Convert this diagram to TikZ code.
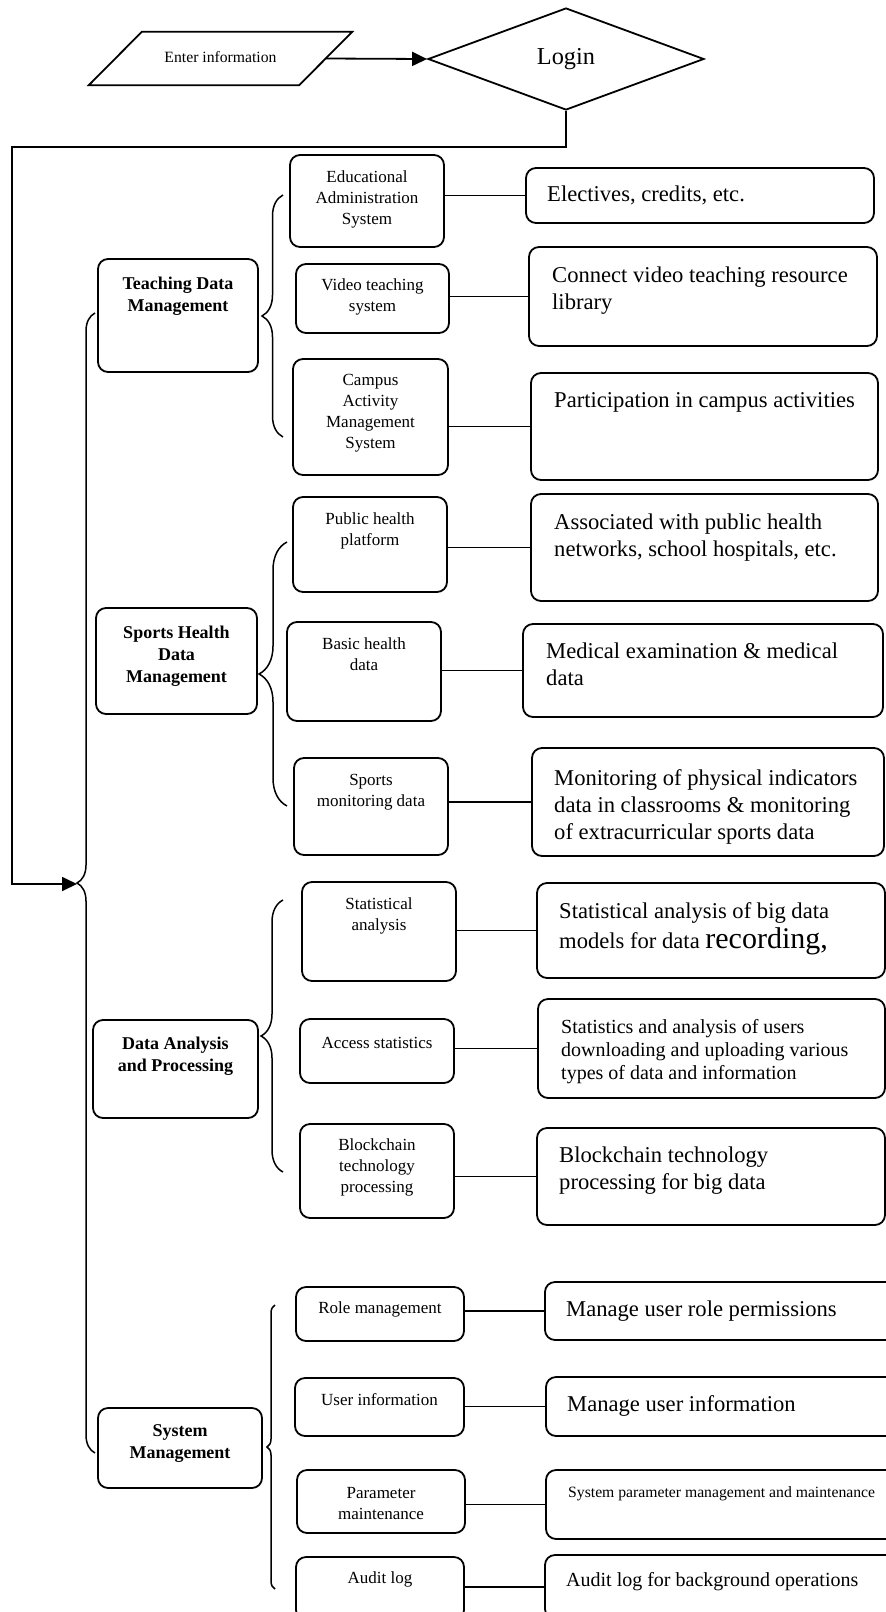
\documentclass[tikz,border=0pt]{standalone}
\usepackage{fontspec}
\setmainfont{Liberation Serif}
\usetikzlibrary{arrows.meta,shapes.geometric,decorations.pathreplacing}

\begin{document}
\begin{tikzpicture}[x=1pt,y=-1pt]
\tikzset{
    box/.style={
       draw, rounded corners=10pt, line width=1.8pt, inner sep=0pt
    },
    subtext/.style={
       font=\fontsize{17}{21}\selectfont, align=center
    },
    headtext/.style={
       font=\fontsize{18}{22}\selectfont\bfseries, align=center
    },
    desctext/.style={
       font=\fontsize{22.6}{27}\selectfont, align=left, anchor=north west, inner sep=0pt
    },
    link/.style={line width=1.8pt},
    brace/.style={
      decoration={brace, amplitude=#1}, decorate, line width=1.5pt
    }
}
\useasboundingbox (0,0) rectangle (886,1612);
\clip (0,0) rectangle (886,1612);
%
\node[minimum width=210pt, minimum height=53pt, inner sep=0pt,
  font=\fontsize{15.7}{19}\selectfont] (enter) at (220.5,58.5) {\raisebox{4pt}{Enter information}};
\draw[line width=1.8pt] ([xshift=26.5pt]enter.north west) -- ([xshift=26.5pt]enter.north east)
  -- ([xshift=-26.5pt]enter.south east) -- ([xshift=-26.5pt]enter.south west) -- cycle;
\node[draw, diamond, minimum width=276pt, minimum height=102pt, inner sep=0pt, line width=1.8pt,
  font=\fontsize{24.3}{29}\selectfont] (login) at (566,59) {\raisebox{3pt}{Login}};
\draw[link, -{Triangle[length=15pt,width=14pt]}] (enter.east) -- (login.west);
\coordinate (turn) at (12,147);
\coordinate (tip) at (77,884);
\draw[link, -{Triangle[length=15pt,width=14pt]}] (login.south) |- (turn) |- (tip);
\draw[brace=18pt] (95,1453) -- (95,313);

% teaching data
\node[box, minimum width=160pt, minimum height=113pt] (teach) at (178,315.5) {};
\node[headtext] (teachT) at (178,296) {Teaching Data\\Management};
\draw[brace=21pt] (283,437) -- (283,195);

\node[box, minimum width=154pt, minimum height=92pt] (eas) at (367,201) {};
\node[subtext] (easT) at (367,199) {Educational\\Administration\\System};
\node[box, minimum width=348pt, minimum height=55pt] (elec) at (700,195.5) {};
\node[desctext] (elecT) at (547,186) {Electives, credits, etc.};
\draw[link] (eas.east |- elec.west) -- (elec.west);

\node[box, minimum width=153pt, minimum height=69pt] (vts) at (372.5,298.5) {};
\node[subtext] (vtsT) at (372.5,297) {Video teaching\\system};
\node[box, minimum width=348pt, minimum height=99pt] (conn) at (703,296.5) {};
\node[desctext] (connT) at (552,267) {Connect video teaching resource\\library};
\draw[link] (vts.east |- conn.west) -- (conn.west);

\node[box, minimum width=155pt, minimum height=116pt] (cams) at (370.5,417) {};
\node[subtext] (camsT) at (370.5,413) {Campus\\Activity\\Management\\System};
\node[box, minimum width=347pt, minimum height=107pt] (part) at (704.5,426.5) {};
\node[desctext] (partT) at (554,392) {Participation in campus activities};
\draw[link] (cams.east |- part.west) -- (part.west);

% sports health
\node[box, minimum width=161pt, minimum height=106pt] (sport) at (176.5,661) {};
\node[headtext] (sportT) at (176.5,656) {Sports Health\\Data\\Management};
\draw[brace=28pt] (287,806) -- (287,542);

\node[box, minimum width=154pt, minimum height=95pt] (php) at (370,544.5) {};
\node[subtext] (phpT) at (370,531) {Public health\\platform};
\node[box, minimum width=347pt, minimum height=107pt] (assoc) at (704.5,547.5) {};
\node[desctext] (assocT) at (554,514) {Associated with public health\\networks, school hospitals, etc.};
\draw[link] (php.east |- assoc.west) -- (assoc.west);

\node[box, minimum width=154pt, minimum height=99pt] (bhd) at (364,671.5) {};
\node[subtext] (bhdT) at (364,654.5) {Basic health\\data};
\node[box, minimum width=360pt, minimum height=93pt] (med) at (703,670.5) {};
\node[desctext] (medT) at (546,643) {Medical examination \& medical\\data};
\draw[link] (bhd.east |- med.west) -- (med.west);

\node[box, minimum width=154pt, minimum height=97pt] (smd) at (371,806.5) {};
\node[subtext] (smdT) at (371,792) {Sports\\monitoring data};
\node[box, minimum width=352pt, minimum height=108pt] (mon) at (708,802) {};
\node[desctext] (monT) at (554,769) {Monitoring of physical indicators\\data in classrooms \& monitoring\\of extracurricular sports data};
\draw[link] (smd.east |- mon.west) -- (mon.west);

% data analysis
\node[box, minimum width=165pt, minimum height=98pt] (dap) at (175.5,1069) {};
\node[headtext] (dapT) at (175.5,1056) {Data Analysis\\and Processing};
\draw[brace=22pt] (283,1172) -- (283,900);

\node[box, minimum width=154pt, minimum height=99pt] (sa) at (379,931.5) {};
\node[subtext] (saT) at (379,916) {Statistical\\analysis};
\node[box, minimum width=348pt, minimum height=95pt] (stat) at (711,930.5) {};
\node[desctext] (statT) at (559,902) {Statistical analysis of big data\\[3pt]models for data {\fontsize{30}{33}\selectfont recording,}};
\draw[link] (sa.east |- stat.west) -- (stat.west);

\node[box, minimum width=154pt, minimum height=64pt] (as) at (377,1051) {};
\node[subtext] (asT) at (377,1043) {Access statistics};
\node[box, minimum width=347pt, minimum height=99pt] (stats) at (711.5,1048.5) {};
\node[desctext, font=\fontsize{20}{23}\selectfont] (statsT) at (561,1019) {Statistics and analysis of users\\downloading and uploading various\\types of data and information};
\draw[link] (as.east |- stats.west) -- (stats.west);

\node[box, minimum width=154pt, minimum height=94pt] (btp) at (377,1171) {};
\node[subtext] (btpT) at (377,1167) {Blockchain\\technology\\processing};
\node[box, minimum width=348pt, minimum height=97pt] (block) at (711,1176.5) {};
\node[desctext] (blockT) at (559,1147) {Blockchain technology\\processing for big data};
\draw[link] (btp.east |- block.west) -- (block.west);

% system management
\node[box, minimum width=164pt, minimum height=80pt] (sys) at (180,1448) {};
\node[headtext] (sysT) at (180,1444) {System\\Management};
\draw[brace=8pt] (275,1589) -- (275,1305);

\node[box, minimum width=168pt, minimum height=54pt] (rm) at (380,1314) {};
\node[subtext] (rmT) at (380,1309) {Role management};
\node[box, minimum width=355pt, minimum height=58pt] (role) at (722.5,1311) {};
\node[desctext] (roleT) at (566,1301) {Manage user role permissions};
\draw[link] (rm.east |- role.west) -- (role.west);

\node[box, minimum width=169pt, minimum height=58pt] (ui) at (379.5,1407) {};
\node[subtext] (uiT) at (379.5,1400) {User information};
\node[box, minimum width=354pt, minimum height=59pt] (info) at (723,1406.5) {};
\node[desctext] (infoT) at (567,1395) {Manage user information};
\draw[link] (ui.east |- info.west) -- (info.west);

\node[box, minimum width=168pt, minimum height=63pt] (pm) at (381,1501.5) {};
\node[subtext] (pmT) at (381,1503) {Parameter\\maintenance};
\node[box, minimum width=354pt, minimum height=69pt] (param) at (723,1504.5) {};
\node[desctext, font=\fontsize{15.7}{19}\selectfont] (paramT) at (568,1486) {System parameter management and maintenance};
\draw[link] (pm.east |- param.west) -- (param.west);

\node[box, minimum width=168pt, minimum height=63pt] (al) at (380,1588.5) {};
\node[subtext] (alT) at (380,1579) {Audit log};
\node[box, minimum width=355pt, minimum height=64pt] (audit) at (722.5,1587) {};
\node[desctext, font=\fontsize{20}{24}\selectfont] (auditT) at (566,1572) {Audit log for background operations};
\draw[link] (al.east |- audit.west) -- (audit.west);
\end{tikzpicture}
\end{document}
